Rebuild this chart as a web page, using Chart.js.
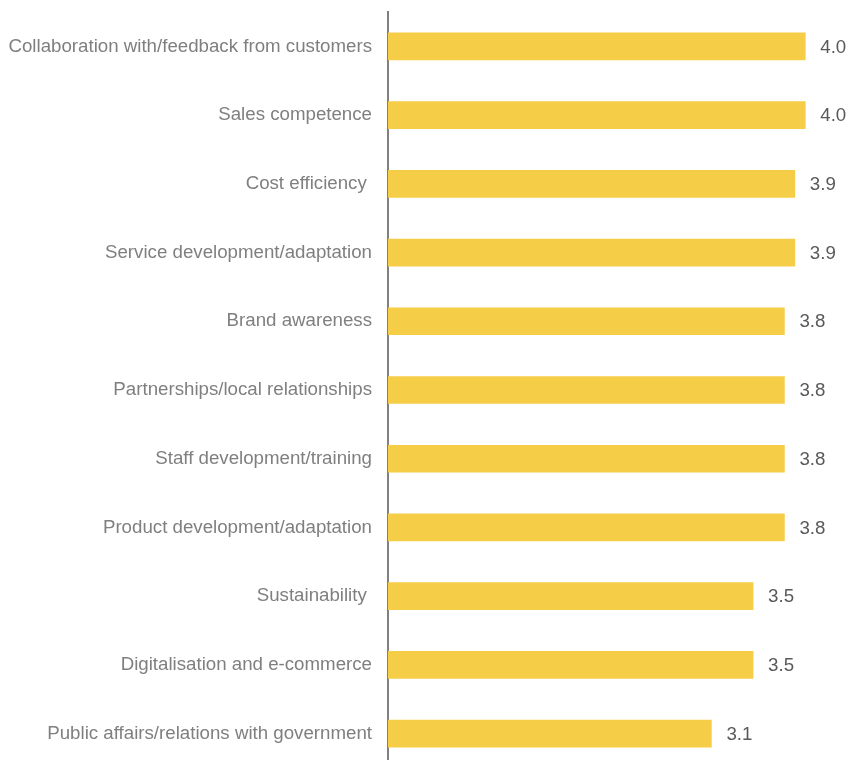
<!DOCTYPE html>
<html>
<head>
<meta charset="utf-8">
<script src="https://cdn.jsdelivr.net/npm/chart.js@4"></script>
<style>
  html, body { margin: 0; padding: 0; background: #fff; overflow: hidden; }
  #wrap { width: 848px; height: 768px; }
</style>
</head>
<body>
<div id="wrap"><canvas id="barChart"></canvas></div>
<script>
const categories = [
  "Collaboration with/feedback from customers",
  "Sales competence",
  "Cost efficiency ",
  "Service development/adaptation",
  "Brand awareness",
  "Partnerships/local relationships",
  "Staff development/training",
  "Product development/adaptation",
  "Sustainability ",
  "Digitalisation and e-commerce",
  "Public affairs/relations with government"
];
const scores = [4.0, 4.0, 3.9, 3.9, 3.8, 3.8, 3.8, 3.8, 3.5, 3.5, 3.1];

const FONT = "'Liberation Sans', Arial, sans-serif";

// value labels to the right of each bar
const valueLabels = {
  id: "valueLabels",
  afterDatasetsDraw(chart) {
    const ctx = chart.ctx;
    const meta = chart.getDatasetMeta(0);
    ctx.save();
    ctx.font = "18.7px " + FONT;
    ctx.fillStyle = "#595959";
    ctx.textAlign = "left";
    ctx.textBaseline = "middle";
    meta.data.forEach((bar, i) => {
      ctx.fillText(scores[i].toFixed(1), bar.x + 15, bar.y + 1);
    });
    ctx.restore();
  }
};

new Chart(document.getElementById("barChart").getContext("2d"), {
  type: "bar",
  data: {
    labels: categories,
    datasets: [{
      data: scores,
      backgroundColor: "#F6CD46",
      borderWidth: 0,
      barThickness: 27
    }]
  },
  options: {
    indexAxis: "y",
    responsive: true,
    maintainAspectRatio: false,
    animation: false,
    layout: { padding: { top: 12, right: 1, bottom: 0, left: 0 } },
    plugins: { legend: { display: false }, tooltip: { enabled: false } },
    scales: {
      x: { display: false, min: 0, max: 4.4 },
      y: {
        afterFit(scale) {
          scale.width = 388;
          scale.paddingTop = 0;
          scale.paddingBottom = 0;
        },
        grid: { display: false, drawTicks: false },
        border: { display: true, color: "#808080", width: 2 },
        ticks: {
          padding: 16,
          color: "#7f7f7f",
          font: { family: FONT, size: 18.7 }
        }
      }
    }
  },
  plugins: [valueLabels]
});
</script>
</body>
</html>
